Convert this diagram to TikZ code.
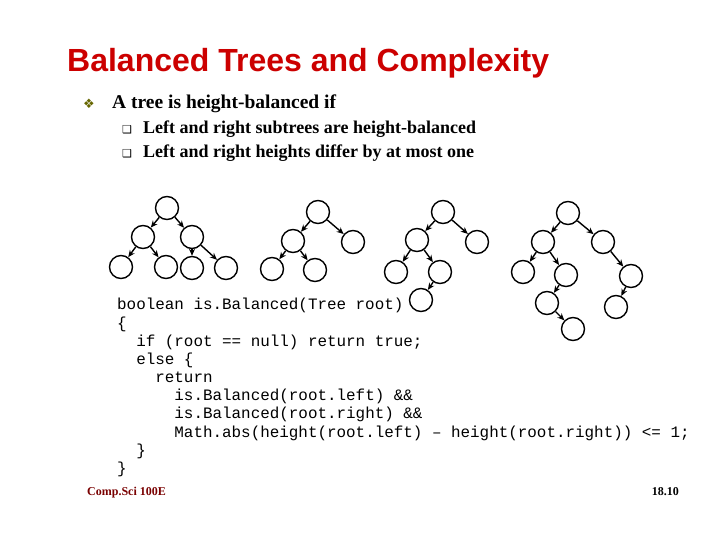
\documentclass[tikz,border=0pt]{standalone}
\usepackage{fontspec}
\setmainfont{Liberation Serif}
\setsansfont{Liberation Sans}
\setmonofont{Liberation Mono}
\newfontfamily\dv{DejaVu Sans}
\usetikzlibrary{arrows.meta}
\definecolor{titlered}{RGB}{204,0,0}
\definecolor{olive}{RGB}{102,102,0}
\begin{document}
\begin{tikzpicture}[x=1pt,y=-1pt,
  tn/.style={circle,draw,line width=1.4pt,minimum size=23pt,inner sep=0pt},
  ed/.style={line width=1.4pt,-{Stealth[length=7pt,width=6pt]}},
  code/.style={anchor=base west,inner sep=0pt,font=\ttfamily\fontsize{15.9}{17}\selectfont}]
\useasboundingbox[fill=white] (0,0) rectangle (720,540);
\node[anchor=base west,inner sep=0pt,text=titlered,font=\sffamily\bfseries\fontsize{32}{36}\selectfont] (title) at (67,72) {Balanced Trees and Complexity};
\node[anchor=base west,inner sep=0pt,text=olive,font=\dv\fontsize{13}{14}\selectfont] (b1) at (83,109) {❖};
\node[anchor=base west,inner sep=0pt,font=\bfseries\fontsize{19.5}{22}\selectfont] (t1) at (112,109) {A tree is height-balanced if};
\node[anchor=base west,inner sep=0pt,font=\dv\fontsize{11}{12}\selectfont] (b2) at (122,134) {❑};
\node[anchor=base west,inner sep=0pt,font=\dv\fontsize{11}{12}\selectfont] (b3) at (122,158) {❑};
\node[anchor=base west,inner sep=0pt,font=\bfseries\fontsize{18}{20}\selectfont] (t2) at (143,134) {Left and right subtrees are height-balanced};
\node[anchor=base west,inner sep=0pt,font=\bfseries\fontsize{18}{20}\selectfont] (t3) at (143,158) {Left and right heights differ by at most one};
% tree 1
\node[tn] (a) at (167,208) {};
\node[tn] (aL) at (143,237) {};
\node[tn] (aR) at (192,237) {};
\node[tn] (aLL) at (121,267) {};
\node[tn] (aLR) at (166,267) {};
\node[tn] (aRL) at (192,268) {};
\node[tn] (aRR) at (226,268) {};
\draw[ed] (a)--(aL); \draw[ed] (a)--(aR); \draw[ed] (aL)--(aLL); \draw[ed] (aL)--(aLR);
\draw[ed] (aR)--(aRL); \draw[ed] (aR)--(aRR);
% tree 2
\node[tn] (b) at (318,212) {};
\node[tn] (bL) at (293,241) {};
\node[tn] (bR) at (353,242) {};
\node[tn] (bLL) at (272,269) {};
\node[tn] (bLR) at (315,270) {};
\draw[ed] (b)--(bL); \draw[ed] (b)--(bR); \draw[ed] (bL)--(bLL); \draw[ed] (bL)--(bLR);
% tree 3
\node[tn] (c) at (443,212) {};
\node[tn] (cL) at (417,240) {};
\node[tn] (cR) at (477,242) {};
\node[tn] (cLL) at (396,272) {};
\node[tn] (cLR) at (440,272) {};
\node[tn] (cLRL) at (421,300) {};
\draw[ed] (c)--(cL); \draw[ed] (c)--(cR); \draw[ed] (cL)--(cLL); \draw[ed] (cL)--(cLR); \draw[ed] (cLR)--(cLRL);
% tree 4
\node[tn] (d) at (568,213) {};
\node[tn] (dL) at (543,242) {};
\node[tn] (dR) at (603,242) {};
\node[tn] (dLL) at (523,272) {};
\node[tn] (dLR) at (566,275) {};
\node[tn] (dLRL) at (547,303) {};
\node[tn] (dLRLR) at (573,329) {};
\node[tn] (dRR) at (631,276) {};
\node[tn] (dRRL) at (616,307) {};
\draw[ed] (d)--(dL); \draw[ed] (d)--(dR); \draw[ed] (dL)--(dLL); \draw[ed] (dL)--(dLR);
\draw[ed] (dLR)--(dLRL); \draw[ed] (dLRL)--(dLRLR); \draw[ed] (dR)--(dRR); \draw[ed] (dRR)--(dRRL);
% code
\node[code] (c1) at (117,309) {boolean is.Balanced(Tree root)};
\node[code] (c2) at (117,328) {\{};
\node[code] (c3) at (117,346) {\ \ if (root == null) return true;};
\node[code] (c4) at (117,364) {\ \ else \{};
\node[code] (c5) at (117,382) {\ \ \ \ return};
\node[code] (c6) at (117,400) {\ \ \ \ \ \ is.Balanced(root.left) \&\&};
\node[code] (c7) at (117,418) {\ \ \ \ \ \ is.Balanced(root.right) \&\&};
\node[code] (c8) at (117,437) {\ \ \ \ \ \ Math.abs(height(root.left) – height(root.right)) <= 1;};
\node[code] (c9) at (117,455) {\ \ \}};
\node[code] (c10) at (117,473) {\}};
\node[anchor=base west,inner sep=0pt,text=titlered!60!black,font=\bfseries\fontsize{12}{14}\selectfont] (f1) at (87,495) {Comp.Sci 100E};
\node[anchor=base east,inner sep=0pt,font=\bfseries\fontsize{12}{14}\selectfont] (f2) at (679,495) {18.10};
\end{tikzpicture}
\end{document}
